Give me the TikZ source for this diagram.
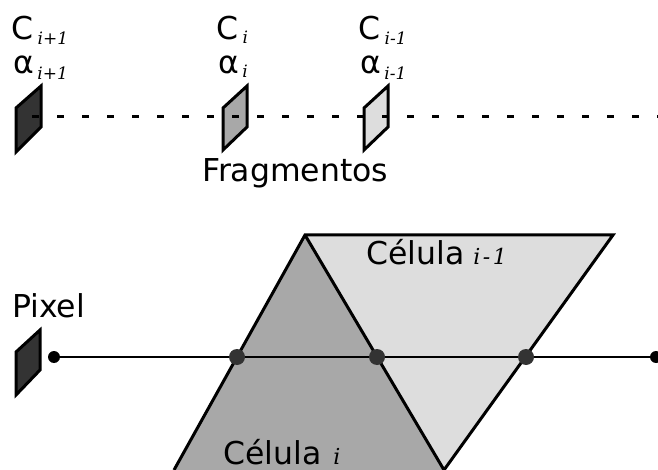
\documentclass[tikz,border=0pt]{standalone}
\usepackage{fontspec}
\setmainfont{DejaVu Sans}
\newfontfamily\subf{DejaVu Serif}
\newcommand\subt[1]{{\fontsize{17}{17}\selectfont\subf\itshape #1}}
\newcommand\cellsub[1]{{\fontsize{22}{22}\selectfont\subf\itshape #1}}
\definecolor{darkfill}{HTML}{333333}
\definecolor{midfill}{HTML}{A8A8A8}
\definecolor{lightfill}{HTML}{DDDDDD}
\begin{document}
\begin{tikzpicture}[x=1pt,y=-1pt,
  lab/.style={font=\fontsize{31.5}{31.5}\selectfont, inner sep=0pt, anchor=base west},
  frag/.style={draw=black, line width=3pt, line join=miter},
  celledge/.style={draw=black, line width=3pt, line join=miter},
  enddot/.style={circle, fill=black, inner sep=0pt, minimum size=12pt},
  hitdot/.style={circle, fill=darkfill, inner sep=0pt, minimum size=16pt}]
\useasboundingbox (0,0) rectangle (658,470);
\clip (0,0) rectangle (658,470);

% labels top
\node[lab] (c1) at (11.5,40) {C\kern4pt\raisebox{-5pt}{\subt{i+1}}};
\node[lab] (a1) at (13.5,74) {α\kern3pt\raisebox{-6pt}{\subt{i+1}}};
\node[lab] (c2) at (216.5,40) {C\kern4pt\raisebox{-4pt}{\subt{i}}};
\node[lab] (a2) at (218.5,74) {α\kern3pt\raisebox{-4pt}{\subt{i}}};
\node[lab] (c3) at (358.5,40) {C\kern4pt\raisebox{-5pt}{\subt{i-1}}};
\node[lab] (a3) at (360.5,74) {α\kern3pt\raisebox{-6pt}{\subt{i-1}}};

% fragments
\filldraw[frag, fill=darkfill] (16,108) -- (41,86) -- (41,127) -- (16,152) -- cycle;
\filldraw[frag, fill=midfill] (223,108) -- (247,86) -- (247,127) -- (223,150) -- cycle;
\filldraw[frag, fill=lightfill] (364,108) -- (388,86) -- (388,127) -- (364,150) -- cycle;

% dashed line
\coordinate (ds) at (32,117);
\coordinate (de) at (660,117);
\draw[line width=3pt, dash pattern=on 7pt off 18pt] (ds) -- (de);

\node[lab] (frg) at (202,182) {Fragmentos};

% cells
\fill[lightfill] (305,235) -- (613,235) -- (444,470) -- cycle;
\fill[midfill] (305,235) -- (444,470) -- (174,470) -- cycle;
\draw[celledge] (174,470) -- (305,235) -- (613,235) -- (444,470);
\draw[celledge] (305,235) -- (444,470);

\node[lab] (cl1) at (366,265) {Célula\kern9pt\cellsub{i\kern2.5pt-\kern2.5pt1}};
\node[lab] (cl2) at (223,464) {Célula\kern12pt\cellsub{i}};

% pixel
\node[lab] (pix) at (12,317) {Pixel};
\filldraw[frag, fill=darkfill] (16,352) -- (40,330) -- (40,370) -- (16,395) -- cycle;

% ray
\node[enddot] (s) at (54,357) {};
\node[enddot] (e) at (656,357) {};
\draw[line width=2.2pt] (s) -- (e);
\node[hitdot] (h1) at (237,357) {};
\node[hitdot] (h2) at (377,357) {};
\node[hitdot] (h3) at (526,357) {};
\end{tikzpicture}
\end{document}
